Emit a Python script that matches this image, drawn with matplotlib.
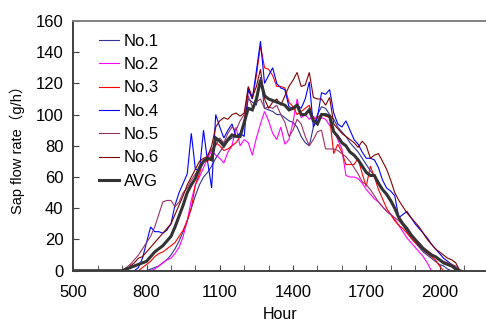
import numpy as np
import matplotlib
matplotlib.use("Agg")
import matplotlib.pyplot as plt

plt.rcParams['font.family'] = ['Liberation Sans', 'Noto Sans CJK JP', 'DejaVu Sans']

# time grid (hour*100), 10-minute steps from 5:00; series data start at 7:00
start_hour, end_hour = 500, 2083.333
n_pre = 12  # zero readings 5:00-6:50

no1 = [0, 0, 0, 0, 0, 0,
       0, 1, 2, 3, 5, 7,
       10, 14, 19, 25, 32, 40,
       48, 55, 60, 63, 67, 72,
       76, 80, 83, 85, 86, 88,
       95, 110, 108, 106, 124, 104,
       103, 102, 100, 100, 98, 96,
       95, 92, 86, 82, 80, 92,
       100, 105, 104, 100, 97, 92,
       89, 86, 82, 79, 76, 72,
       68, 64, 61, 57, 52, 48,
       44, 40, 34, 29, 25, 21,
       18, 15, 12, 10, 8, 6,
       4, 3, 1, 0, 0, 0]
no2 = [0, 0, 0, 0, 0, 0,
       0, 0, 1, 3, 5, 7,
       8, 11, 15, 22, 32, 45,
       55, 60, 66, 72, 77, 74,
       72, 69, 76, 80, 92, 80,
       84, 82, 74, 85, 94, 102,
       96, 88, 84, 92, 81, 84,
       95, 110, 98, 100, 97, 99,
       96, 98, 97, 93, 90, 84,
       78, 61, 60, 60, 59, 56,
       52, 49, 46, 44, 41, 38,
       36, 33, 29, 25, 21, 18,
       15, 12, 9, 5, 0, 0,
       0, 0, 0, 0, 0, 0]
no3 = [0, 0, 0, 0, 0, 2,
       4, 6, 9, 11, 12, 14,
       16, 18, 22, 26, 32, 40,
       55, 62, 71, 70, 74, 82,
       80, 77, 78, 80, 82, 86,
       95, 117, 110, 125, 144, 130,
       129, 125, 118, 118, 117, 108,
       105, 100, 102, 104, 106, 97,
       98, 100, 99, 98, 75, 81,
       76, 68, 68, 68, 72, 62,
       54, 67, 60, 52, 46, 40,
       36, 32, 29, 27, 24, 21,
       18, 16, 13, 11, 9, 7,
       3, 0, 0, 0, 0, 0]
no4 = [0, 0, 0, 0, 2, 8,
       18, 28, 25, 25, 24, 26,
       30, 42, 50, 56, 62, 88,
       65, 64, 90, 70, 53, 100,
       92, 85, 90, 94, 86, 88,
       86, 116, 110, 128, 147, 120,
       125, 130, 120, 117, 116, 105,
       104, 106, 104, 110, 121, 92,
       98, 114, 113, 116, 101, 94,
       92, 96, 90, 84, 81, 76,
       72, 72, 71, 66, 58, 53,
       51, 48, 34, 36, 38, 34,
       30, 27, 24, 21, 17, 14,
       11, 8, 6, 4, 2, 0]
no5 = [0, 2, 4, 7, 10, 14,
       18, 22, 28, 36, 44, 45,
       45, 41, 44, 50, 53, 58,
       62, 66, 70, 74, 78, 80,
       85, 82, 88, 92, 90, 96,
       100, 112, 105, 108, 110, 104,
       105, 104, 106, 100, 95, 86,
       90, 97, 94, 86, 80, 84,
       89, 90, 78, 78, 78, 77,
       75, 73, 70, 66, 62, 57,
       55, 52, 48, 44, 41, 38,
       36, 34, 32, 29, 26, 23,
       20, 18, 15, 13, 11, 9,
       7, 6, 5, 4, 3, 0]
no6 = [0, 0, 3, 5, 8, 9,
       12, 15, 18, 21, 24, 27,
       30, 36, 42, 48, 55, 60,
       65, 70, 72, 73, 80, 92,
       96, 98, 97, 100, 101, 99,
       101, 118, 111, 118, 129, 110,
       104, 108, 110, 106, 112, 118,
       122, 127, 118, 119, 127, 111,
       110, 110, 106, 111, 94, 91,
       88, 86, 84, 82, 79, 83,
       80, 72, 74, 75, 70, 65,
       58, 50, 45, 41, 37, 34,
       31, 28, 24, 20, 17, 14,
       12, 10, 8, 7, 5, 0]
avg = [0, 1, 2, 3, 4, 5,
       6, 9, 12, 14, 16, 19,
       22, 28, 35, 42, 50, 55,
       59, 66, 70, 72, 71, 85,
       83, 80, 84, 87, 86, 86,
       95, 104, 103, 110, 122, 112,
       110, 109, 108, 107, 106, 103,
       104, 106, 100, 100, 103, 96,
       94, 100, 100, 99, 89, 86,
       82, 80, 76, 74, 71, 67,
       63, 61, 61, 56, 52, 49,
       45, 40, 34, 30, 27, 23,
       20, 17, 14, 12, 10, 9,
       7, 5, 4, 3, 1, 0]

labels = ['No.1', 'No.2', 'No.3', 'No.4', 'No.5', 'No.6', 'AVG']
colors = ['#333399', '#FF00FF', '#FF0000', '#0000FF', '#993366', '#800000', '#333333']
series = [no1, no2, no3, no4, no5, no6, avg]

n_total = n_pre + len(no1)
hours = np.linspace(start_hour, end_hour, n_total)

fig = plt.figure(figsize=(4.86, 3.24), dpi=100)
ax = fig.add_axes([0.1508, 0.1645, 0.849, 0.771])

for vals, lab, col in zip(series, labels, colors):
    y = np.concatenate([np.zeros(n_pre), np.array(vals, dtype=float)])
    lw = 2.2 if lab == 'AVG' else 0.8
    ax.plot(hours, y, color=col, lw=lw, label=lab, solid_joinstyle='miter')

ax.set_xlim(500, 2190)
ax.set_ylim(0, 160)
ax.set_xticks(np.arange(500, 2101, 300))
ax.set_xticks(np.arange(500, 2101, 100), minor=True)
ax.set_yticks(np.arange(0, 161, 20))
ax.tick_params(axis='both', which='both', direction='in', labelsize=12, color='#404040')
ax.tick_params(axis='x', which='major', length=4, pad=10)
ax.tick_params(axis='x', which='minor', length=4)
ax.tick_params(axis='y', length=4, pad=7)
for s in ['left', 'bottom', 'top']:
    ax.spines[s].set_color('#404040')
    ax.spines[s].set_linewidth(1.4)
ax.spines['top'].set_color('#808080')
ax.spines['right'].set_visible(False)

ax.set_ylabel('Sap flow rate（g/h）', fontsize=10.5, labelpad=8)
ax.set_xlabel('Hour', fontsize=11.5, labelpad=5)

leg = ax.legend(loc='upper left', bbox_to_anchor=(0.045, 0.975), frameon=False,
                fontsize=12, handlelength=1.2, handletextpad=0.3, labelspacing=0.5,
                borderaxespad=0)

fig.savefig('out.png', dpi=100)
